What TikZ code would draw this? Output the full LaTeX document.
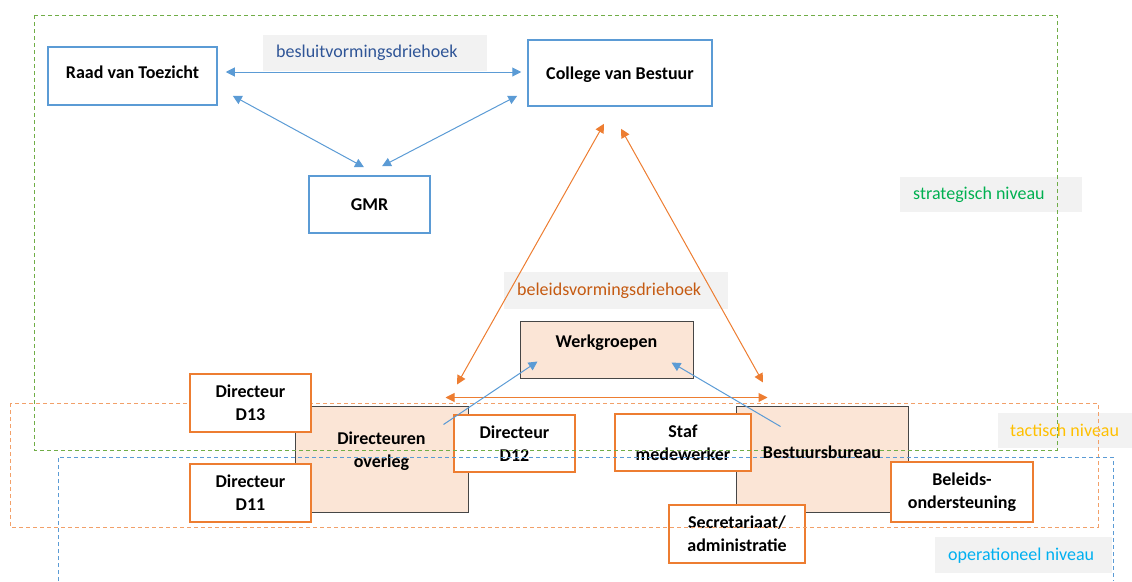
\documentclass[tikz,border=0pt]{standalone}
\usepackage{fontspec}
\setmainfont{Carlito}
\usetikzlibrary{arrows.meta,calc}
\definecolor{bline}{RGB}{91,155,213}
\definecolor{oline}{RGB}{237,125,49}
\definecolor{peach}{RGB}{251,229,214}
\definecolor{pborder}{RGB}{70,70,70}
\definecolor{lgray}{RGB}{242,242,242}
\definecolor{gdash}{RGB}{112,173,71}
\definecolor{odash}{RGB}{242,160,105}
\definecolor{bdash}{RGB}{91,155,213}
\definecolor{besl}{RGB}{47,85,151}
\definecolor{belv}{RGB}{197,90,17}
\definecolor{strat}{RGB}{0,176,80}
\definecolor{tact}{RGB}{255,192,0}
\definecolor{oper}{RGB}{0,176,240}
\begin{document}
\begin{tikzpicture}[x=1pt,y=-1pt,
  bluebox/.style={draw=bline, line width=1.5pt, fill=white, inner sep=0pt},
  orbox/.style={draw=oline, line width=2pt, fill=white, inner sep=0pt, align=center},
  peachbox/.style={draw=pborder, line width=1pt, fill=peach, inner sep=0pt},
  bt/.style={font=\fontsize{18}{23}\selectfont\bfseries},
  btx/.style={font=\fontsize{18}{23}\selectfont\bfseries, align=center, inner sep=0pt},
  lbl/.style={font=\fontsize{18}{22}\selectfont, fill=lgray, inner xsep=13pt, inner ysep=0pt, anchor=north west, align=flush left},
  frame/.style={dash pattern=on 4pt off 3pt, line width=1pt},
  barrow/.style={draw=bline, line width=1pt, {Triangle[length=9pt,width=9pt]}-{Triangle[length=9pt,width=9pt]}},
  barrowone/.style={draw=bline, line width=1pt, -{Triangle[length=9pt,width=9pt]}},
  oarrow/.style={draw=oline, line width=1pt, {Triangle[length=9pt,width=9pt]}-{Triangle[length=9pt,width=9pt]}}
]
\useasboundingbox (0,0) rectangle (1132,581);

% level labels
\node[lbl, text=besl, text width=198pt, minimum height=36pt] (lb1) at (263,35) {besluitvormingsdriehoek};
\node[lbl, text=strat, text width=156pt, minimum height=35pt] (lb2) at (900,177) {strategisch niveau};
\node[lbl, text=belv, text width=198pt, minimum height=37pt] (lb3) at (504,272) {beleidsvormingsdriehoek};
\node[lbl, text=tact, inner xsep=12pt, text width=125pt, minimum height=35pt] (lb4) at (998,413) {tactisch niveau};
\node[lbl, text=oper, text width=151pt, minimum height=36pt] (lb5) at (935,537) {operationeel niveau};

% top boxes
\node[bluebox, minimum width=169pt, minimum height=58pt] (raad) at (132.5,76) {};
\node[bt, inner sep=0pt] (raadt) at ($(raad)+(0,-4)$) {Raad van Toezicht};
\node[bluebox, minimum width=184pt, minimum height=66pt] (college) at (620,73) {};
\node[bt, inner sep=0pt] (collegt) at ($(college)+(0,2)$) {College van Bestuur};
\node[bluebox, bt, minimum width=121pt, minimum height=57pt] (gmr) at (369.5,204.5) {GMR};

% peach boxes
\node[peachbox, minimum width=173pt, minimum height=57pt] (werk) at (606.5,349.5) {};
\node[btx] (werkt) at ($(werk)+(0,-6.5)$) {Werkgroepen};
\node[peachbox, minimum width=173pt, minimum height=106pt] (dover) at (381.5,459) {};
\node[btx] (dovert) at ($(dover)+(0,-7.5)$) {Directeuren\\overleg};
\node[peachbox, minimum width=172pt, minimum height=106pt] (bbur) at (822,459) {};

% orange boxes
\node[orbox, btx, minimum width=121pt, minimum height=58pt] (d11) at (250.5,493) {Directeur\\D11};
\node[orbox, btx, minimum width=121pt, minimum height=57pt] (d12) at (514.5,443.5) {Directeur\\D12};
\node[orbox, btx, minimum width=136pt, minimum height=57pt] (staf) at (683,442.5) {Staf\\medewerker};
\node[orbox, btx, minimum width=142pt, minimum height=60pt] (beleid) at (962,492) {Beleids-\\ondersteuning};
\node[orbox, btx, minimum width=136pt, minimum height=58pt] (secr) at (737,534) {Secretariaat/\\administratie};

% level frames
\draw[frame, draw=gdash] (34,15) rectangle (1057,450);
\draw[frame, draw=odash] (10,403) rectangle (1098,527);
\draw[frame, draw=bdash] (58,581) -- (58,457) -- (1113,457) -- (1113,581);

\node[btx] (bburt) at ($(bbur)+(0,-7)$) {Bestuursbureau};
\node[orbox, btx, minimum width=121pt, minimum height=58pt] (d13) at (250.5,403) {Directeur\\D13};

% connectors
\draw[barrow] ([shift={(8,-4)}]raad.east) -- ([shift={(-6,-1)}]college.west);
\draw[barrow] ([shift={(15,-10)}]raad.south east) -- ([shift={(-5.5,-8)}]gmr.north);
\draw[barrow] ([shift={(-10,-11)}]college.south west) -- ([shift={(12.5,-9)}]gmr.north);
\draw[oarrow] ([shift={(-16,17)}]college.south) -- ([shift={(75.5,-21)}]dover.north);
\draw[oarrow] ([shift={(1,22)}]college.south) -- ([shift={(-59,-23)}]bbur.north);
\draw[oarrow] ([shift={(-23,-8)}]dover.north east) -- ([shift={(32,-8)}]bbur.north west);
\draw[barrowone] ([shift={(-25,19)}]dover.north east) -- ([shift={(18,-17)}]werk.south west);
\draw[barrowone] ([shift={(45,21)}]bbur.north west) -- ([shift={(-22,-16)}]werk.south east);
\end{tikzpicture}
\end{document}
